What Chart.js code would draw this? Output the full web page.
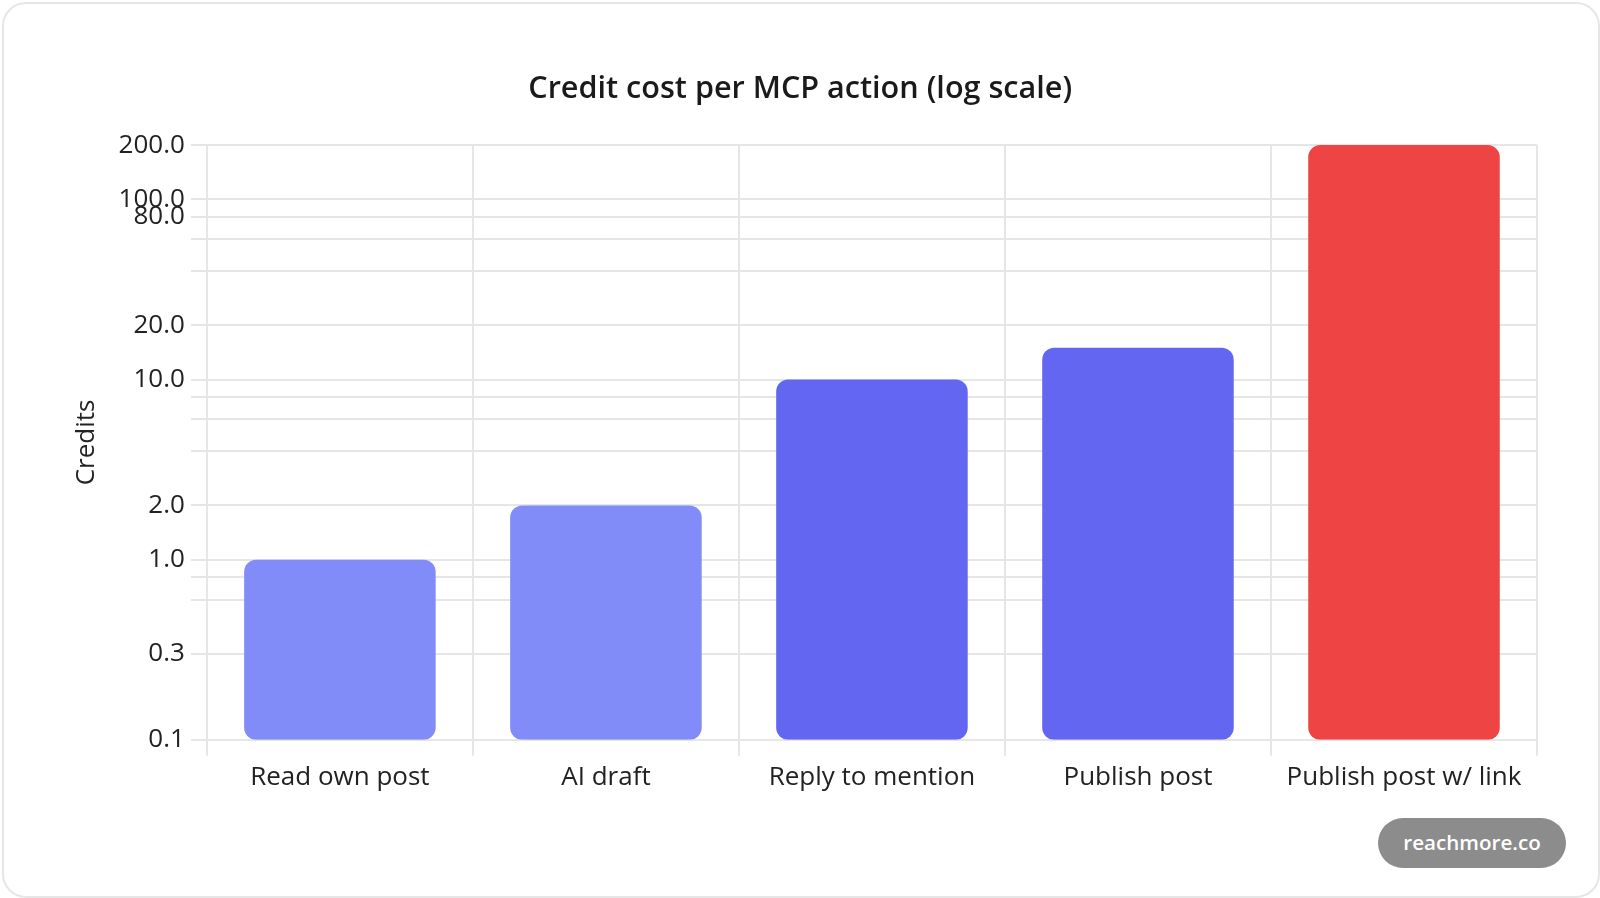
<!DOCTYPE html>
<html>
<head>
<meta charset="utf-8">
<script src="https://cdn.jsdelivr.net/npm/chart.js@4.4.1/dist/chart.umd.min.js"></script>
<style>
  html, body { margin: 0; padding: 0; background: #ffffff; overflow: hidden; }
  #stage {
    position: absolute; left: 0; top: 0;
    width: 800px; height: 449px;
    transform: scale(2); transform-origin: 0 0;
  }
  #card {
    position: absolute; left: 0.5px; top: 0.5px;
    width: 799px; height: 448px;
    box-sizing: border-box;
    border: 1px solid #e6e6e6; border-radius: 12px;
    background: #ffffff;
  }
  #wrap { position: absolute; left: 0; top: 0; width: 800px; height: 449px; }
  #badge {
    position: absolute; left: 689px; top: 409px;
    width: 94px; height: 25px; border-radius: 12.5px;
    background: #8c8c8c; color: #ffffff;
    font-family: "Open Sans", sans-serif; font-weight: 600; font-size: 10.3px;
    line-height: 25px; text-align: center;
  }
</style>
</head>
<body>
<div id="stage">
  <div id="card"></div>
  <div id="wrap"><canvas id="chart"></canvas></div>
  <div id="badge">reachmore.co</div>
</div>
<script>
// ---- data ----
const categories = ['Read own post', 'AI draft', 'Reply to mention', 'Publish post', 'Publish post w/ link'];
const credits = [1, 2, 10, 15, 200];
const yAxisMin = 0.1;
const chartTitle = 'Credit cost per MCP action (log scale)';
const yAxisTitle = 'Credits';

// ---- styles ----
const barColors = ['#818cf8', '#818cf8', '#6366f1', '#6366f1', '#ef4444'];
const gridColor = '#e6e6e6';

Chart.defaults.font.family = '"Open Sans", sans-serif';
Chart.defaults.font.size = 13;
Chart.defaults.color = '#222222';

new Chart(document.getElementById('chart'), {
  type: 'bar',
  data: {
    labels: categories,
    datasets: [{
      label: yAxisTitle,
      data: credits,
      backgroundColor: barColors,
      borderRadius: 6,
      borderSkipped: false
    }]
  },
  options: {
    responsive: true,
    maintainAspectRatio: false,
    devicePixelRatio: 2,
    animation: false,
    layout: { padding: { left: 31.7, right: 31.5, top: 24.5, bottom: 49.5 } },
    plugins: {
      legend: { display: false },
      tooltip: { enabled: false },
      title: {
        display: true,
        text: chartTitle,
        color: '#1a1a1a',
        font: { size: 15.3, weight: '600' },
        padding: { top: 11, bottom: 18.7 }
      }
    },
    scales: {
      x: {
        grid: { color: gridColor },
        border: { color: gridColor },
        ticks: { color: '#222222' }
      },
      y: {
        type: 'logarithmic',
        min: yAxisMin,
        grid: { color: gridColor },
        border: { color: gridColor },
        ticks: { color: '#222222' },
        title: {
          display: true,
          text: yAxisTitle,
          color: '#222222',
          padding: { top: 4, bottom: 5 }
        }
      }
    }
  }
});
</script>
</body>
</html>
